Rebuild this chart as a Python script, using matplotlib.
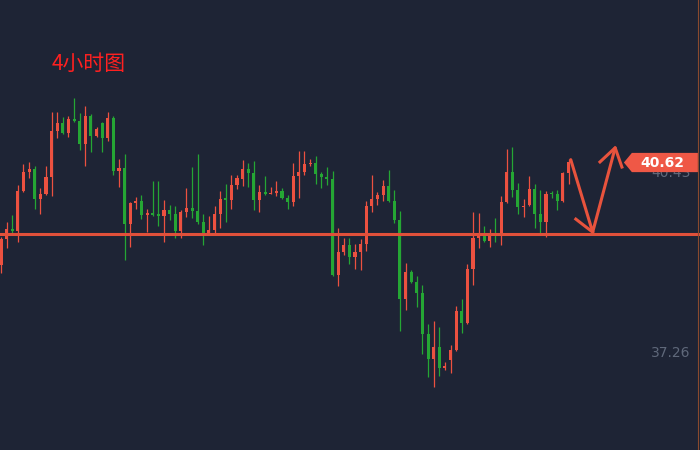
import numpy as np
import matplotlib.pyplot as plt
from matplotlib.patches import Polygon

plt.rcParams['font.family'] = ['Noto Sans CJK SC', 'DejaVu Sans']

# 4-hour candles (open, high, low, close)
opens = [38.81, 39.27, 39.45, 39.41, 40.12, 40.45, 40.51, 39.98, 40.06, 40.36,
         41.18, 41.32, 41.14, 41.39, 41.35, 40.95, 41.44, 41.09, 41.32, 41.05,
         41.41, 40.47, 40.52, 39.53, 39.91, 39.94, 39.69, 39.73, 39.70, 39.68,
         39.78, 39.71, 39.41, 39.75, 39.82, 39.76, 39.57, 39.37, 39.43, 39.71,
         39.98, 39.96, 40.22, 40.33, 40.51, 40.44, 39.96, 40.10, 40.06, 40.08,
         40.12, 39.99, 39.92, 40.38, 40.45, 40.59, 40.61, 40.42, 40.36, 40.33,
         38.63, 39.04, 39.16, 38.95, 39.04, 39.18, 39.85, 39.98, 40.05, 40.21,
         39.94, 39.61, 38.21, 38.69, 38.51, 38.31, 37.59, 37.15, 37.36, 36.99,
         37.13, 37.31, 38.00, 37.79, 38.74, 39.29, 39.32, 39.23, 39.34, 39.32,
         39.92, 40.45, 40.13, 39.83, 39.87, 40.15, 39.71, 39.57, 40.08, 40.06,
         39.94, 40.44]
highs = [39.30, 39.57, 39.69, 40.22, 40.59, 40.63, 40.56, 40.17, 40.56, 41.51,
         41.51, 41.42, 41.44, 41.76, 41.50, 41.62, 41.48, 41.25, 41.34, 41.51,
         41.44, 40.68, 40.77, 39.92, 40.01, 40.05, 39.80, 40.29, 40.29, 39.96,
         39.87, 39.85, 39.78, 40.17, 40.54, 40.77, 39.71, 39.68, 39.85, 40.12,
         40.24, 40.40, 40.40, 40.67, 40.61, 40.65, 40.22, 40.38, 40.19, 40.29,
         40.17, 40.05, 40.61, 40.82, 40.82, 40.68, 40.74, 40.45, 40.54, 40.47,
         39.46, 39.29, 39.29, 39.18, 39.27, 39.94, 40.40, 40.10, 40.31, 40.49,
         40.13, 39.76, 38.85, 38.72, 38.61, 38.46, 37.77, 37.82, 37.71, 37.10,
         37.39, 38.09, 38.21, 38.83, 39.75, 39.73, 39.50, 39.45, 39.64, 40.03,
         40.86, 40.89, 40.26, 39.98, 40.38, 40.24, 40.13, 40.12, 40.12, 40.13,
         40.45, 40.68]
lows = [38.67, 39.11, 39.37, 39.22, 40.10, 40.35, 39.80, 39.71, 40.05, 40.03,
        41.05, 41.13, 41.07, 41.34, 40.84, 40.56, 40.81, 41.07, 40.81, 41.00,
        40.40, 40.19, 38.90, 39.13, 39.80, 39.62, 39.39, 39.68, 39.50, 39.22,
        39.61, 39.29, 39.29, 39.66, 39.64, 39.53, 39.16, 39.36, 39.36, 39.46,
        39.57, 39.80, 40.15, 40.21, 40.19, 39.78, 39.75, 40.05, 40.06, 40.03,
        39.97, 39.80, 39.85, 39.99, 40.40, 40.56, 40.24, 40.17, 40.22, 38.62,
        38.44, 38.99, 38.83, 38.74, 38.72, 39.06, 39.75, 39.87, 39.94, 39.93,
        39.55, 37.64, 38.01, 38.49, 38.07, 37.24, 36.83, 36.65, 36.85, 36.95,
        36.90, 37.29, 37.61, 37.77, 38.46, 39.11, 39.22, 39.13, 39.22, 39.16,
        39.90, 40.01, 39.71, 39.66, 39.86, 39.46, 39.36, 39.30, 39.99, 39.78,
        39.93, 40.24]
closes = [39.27, 39.45, 39.41, 40.12, 40.45, 40.51, 39.98, 40.06, 40.36, 41.18,
          41.32, 41.14, 41.39, 41.35, 40.95, 41.44, 41.09, 41.21, 41.05, 41.41,
          40.47, 40.52, 39.53, 39.91, 39.94, 39.69, 39.73, 39.70, 39.68, 39.78,
          39.71, 39.41, 39.75, 39.82, 39.76, 39.57, 39.37, 39.43, 39.71, 39.98,
          39.96, 40.22, 40.35, 40.51, 40.44, 39.96, 40.10, 40.06, 40.08, 40.12,
          39.99, 39.92, 40.38, 40.45, 40.59, 40.61, 40.42, 40.36, 40.33, 38.63,
          39.04, 39.16, 38.95, 39.04, 39.18, 39.85, 39.98, 40.05, 40.21, 39.94,
          39.61, 38.21, 38.69, 38.51, 38.31, 37.59, 37.15, 37.36, 36.99, 37.01,
          37.31, 38.00, 37.79, 38.74, 39.29, 39.32, 39.23, 39.34, 39.32, 39.92,
          40.45, 40.13, 39.83, 39.85, 40.15, 39.71, 39.57, 40.06, 40.06, 39.94,
          40.44, 40.63]

support = 39.35
last_price = 40.62
axis_labels = [40.43, 37.26]
title = '4小时图'

# forecast zig-zag (candle index, price)
path_x = [101.4, 105.3, 109.3]
path_y = [40.67, 39.39, 40.88]
head1_x, head1_y = [102.3, 105.3], [39.62, 39.39]
head2_x, head2_y = [106.6, 109.3, 110.5], [40.63, 40.88, 40.54]

bg = '#1e2435'
up_c = '#ec5140'
dn_c = '#25a634'

fig = plt.figure(figsize=(7, 4.5), dpi=100, facecolor=bg)
ax = fig.add_axes([0, 0, 1, 1])
ax.set_facecolor(bg)

x = np.arange(len(opens))
o = np.array(opens); c = np.array(closes)
colors = [up_c if cc >= oo else dn_c for oo, cc in zip(o, c)]
ax.vlines(x, lows, highs, colors=colors, linewidth=0.9, zorder=2)
heights = np.maximum(np.abs(c - o), 0.03)
ax.bar(x, heights, bottom=np.minimum(o, c), width=0.55, color=colors,
       linewidth=0, zorder=3)

ax.axhline(support, color='#e0503a', linewidth=2.2, zorder=4)

ax.plot(path_x, path_y, color='#e8533d', linewidth=2.2, solid_capstyle='round',
        solid_joinstyle='miter', zorder=5)
ax.plot(head1_x, head1_y, color='#e8533d', linewidth=2.2, zorder=5)
ax.plot(head2_x, head2_y, color='#e8533d', linewidth=2.2, zorder=5)

ax.set_xlim(-0.18, 124.4)
ax.set_ylim(35.541, 43.491)
ax.axis('off')

# faint right-side price labels
for p in axis_labels:
    ax.text(690 / 5.62, p, f'{p:.2f}', color='#5f687a', fontsize=10,
            ha='right', va='center', family='DejaVu Sans', zorder=6)

# current price tag
x_tip, x_l, x_r = 623 / 5.62, 631 / 5.62, 697 / 5.62
dy = 0.17
tag = Polygon([[x_tip, last_price], [x_l, last_price + dy], [x_r, last_price + dy],
               [x_r, last_price - dy], [x_l, last_price - dy]],
              closed=True, facecolor='#ef5846', edgecolor='none', zorder=7)
ax.add_patch(tag)
ax.text(661 / 5.62, last_price, f'{last_price:.2f}', color='white', fontsize=10,
        fontweight='bold', ha='center', va='center', family='DejaVu Sans',
        zorder=8)

ax.axvline(697.5 / 5.62, color='#8a4a2e', linewidth=0.8, zorder=6)

fig.text(52 / 700, 1 - 64 / 450, title, color='#ff2020', fontsize=15,
         ha='left', va='center')

fig.savefig('out.png', dpi=100, facecolor=bg)
